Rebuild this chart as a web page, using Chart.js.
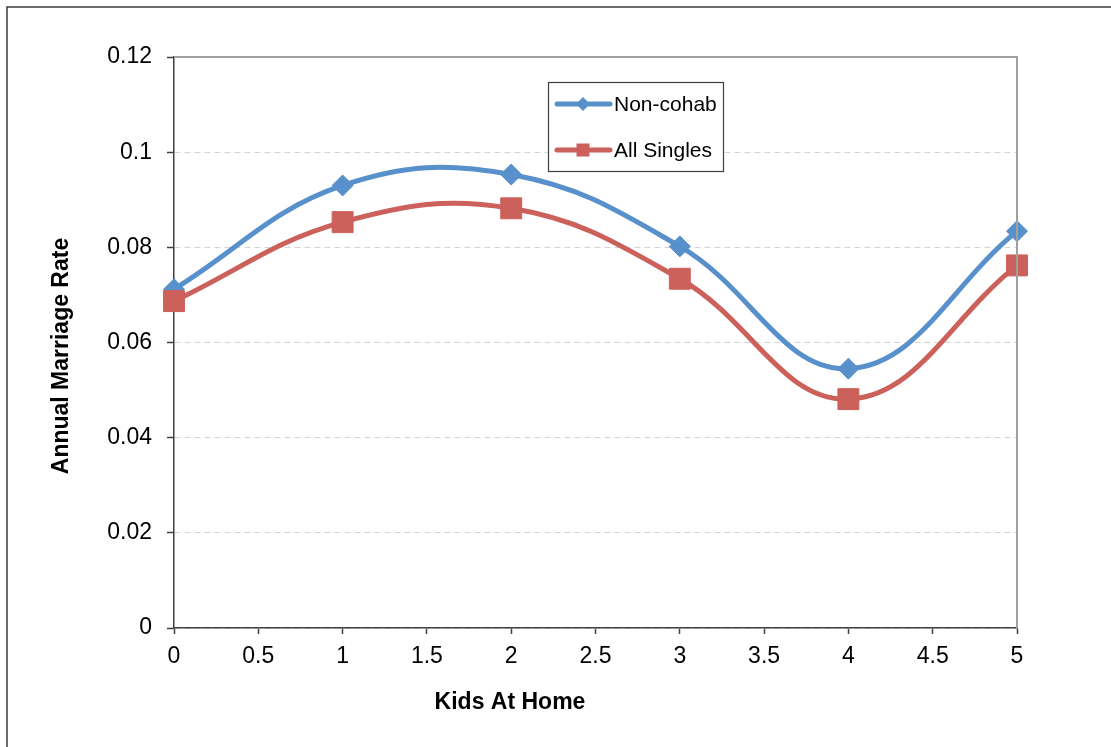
<!DOCTYPE html>
<html>
<head>
<meta charset="utf-8">
<script src="https://cdn.jsdelivr.net/npm/chart.js@4/dist/chart.umd.min.js"></script>
<style>
  html, body { margin: 0; padding: 0; background: #ffffff; }
  #wrap { width: 1111px; height: 747px; position: relative; }
  canvas { display: block; }
</style>
</head>
<body>
<div id="wrap"><canvas id="c" width="1111" height="747"></canvas></div>
<script>
// ---- Data ----
const categories = [0, 1, 2, 3, 4, 5];
const nonCohab   = [0.0712, 0.0930, 0.0953, 0.0802, 0.0545, 0.0834];
const allSingles = [0.0687, 0.0853, 0.0882, 0.0734, 0.0481, 0.0762];
const seriesNames = ['Non-cohab', 'All Singles'];
const xTickLabels = ['0', '0.5', '1', '1.5', '2', '2.5', '3', '3.5', '4', '4.5', '5'];
const yTickLabels = ['0', '0.02', '0.04', '0.06', '0.08', '0.1', '0.12'];
const xTitle = 'Kids At Home';
const yTitle = 'Annual Marriage Rate';

// ---- Styles ----
const BLUE = '#5890CB';
const RED = '#CC605A';
const FONT = '"Liberation Sans", Arial, sans-serif';

const toPoints = (vals) => categories.map((c, i) => ({ x: c, y: vals[i] }));

const decorPlugin = {
  id: 'decor',
  beforeDraw(chart) {
    const ctx = chart.ctx;
    ctx.save();
    ctx.fillStyle = '#ffffff';
    ctx.fillRect(0, 0, chart.width, chart.height);
    // outer chart border (left & top visible)
    ctx.strokeStyle = '#3a3a3a';
    ctx.lineWidth = 1.5;
    ctx.beginPath();
    ctx.moveTo(7, chart.height + 5);
    ctx.lineTo(7, 7);
    ctx.lineTo(chart.width + 5, 7);
    ctx.stroke();
    ctx.restore();
  },
  afterDraw(chart) {
    const ctx = chart.ctx;
    const a = chart.chartArea;
    ctx.save();
    // plot area top & right border
    ctx.strokeStyle = '#A0A0A0';
    ctx.lineWidth = 2;
    ctx.beginPath();
    ctx.moveTo(a.left, a.top);
    ctx.lineTo(a.right, a.top);
    ctx.lineTo(a.right, a.bottom);
    ctx.stroke();

    // axis titles
    ctx.fillStyle = '#000000';
    ctx.font = 'bold 23px ' + FONT;
    ctx.textAlign = 'center';
    ctx.textBaseline = 'middle';
    ctx.fillText(xTitle, 510, 703);
    ctx.save();
    ctx.translate(62, 356);
    ctx.rotate(-Math.PI / 2);
    ctx.fillText(yTitle, 0, 0);
    ctx.restore();

    // legend
    const lx = 548, ly = 82, lw = 175, lh = 89;
    ctx.fillStyle = '#ffffff';
    ctx.fillRect(lx, ly, lw, lh);
    ctx.strokeStyle = '#404040';
    ctx.lineWidth = 1.2;
    ctx.strokeRect(lx + 0.5, ly + 0.5, lw, lh);
    const rows = [104, 150];
    chart.data.datasets.slice().sort((p, q) => p.legendIndex - q.legendIndex).forEach((ds, i) => {
      const y = rows[i];
      ctx.strokeStyle = ds.borderColor;
      ctx.lineWidth = 5;
      ctx.lineCap = 'round';
      ctx.beginPath();
      ctx.moveTo(557, y);
      ctx.lineTo(610, y);
      ctx.stroke();
      ctx.fillStyle = ds.pointBackgroundColor;
      ctx.beginPath();
      if (ds.pointStyle === 'rectRot') {
        const r = 7;
        ctx.moveTo(583 - r, y); ctx.lineTo(583, y - r); ctx.lineTo(583 + r, y); ctx.lineTo(583, y + r);
        ctx.closePath();
      } else {
        const s = 6.5;
        ctx.rect(583 - s, y - s, 2 * s, 2 * s);
      }
      ctx.fill();
      ctx.fillStyle = '#000000';
      ctx.font = '21px ' + FONT;
      ctx.textAlign = 'left';
      ctx.textBaseline = 'middle';
      ctx.fillText(ds.label, 614, y + 1);
    });
    ctx.restore();
  }
};

const chart = new Chart(document.getElementById('c'), {
  type: 'line',
  data: {
    datasets: [
      {
        label: seriesNames[1],
        legendIndex: 1,
        data: toPoints(allSingles),
        borderColor: RED,
        backgroundColor: RED,
        pointBackgroundColor: RED,
        pointBorderColor: RED,
        pointStyle: 'rect',
        pointRadius: 14.8,
        pointBorderWidth: 1,
        borderWidth: 5,
        tension: 0.4,
        fill: false,
        clip: false,
        order: 0
      },
      {
        label: seriesNames[0],
        legendIndex: 0,
        data: toPoints(nonCohab),
        borderColor: BLUE,
        backgroundColor: BLUE,
        pointBackgroundColor: BLUE,
        pointBorderColor: BLUE,
        pointStyle: 'rectRot',
        pointRadius: 10.5,
        pointBorderWidth: 1,
        borderWidth: 5,
        tension: 0.4,
        fill: false,
        clip: false,
        order: 1
      }
    ]
  },
  options: {
    responsive: false,
    animation: false,
    events: [],
    layout: { padding: { left: 0, right: 94, top: 57, bottom: 0 } },
    plugins: {
      legend: { display: false },
      tooltip: { enabled: false },
      title: { display: false }
    },
    scales: {
      x: {
        type: 'linear',
        min: 0,
        max: 5,
        afterFit(scale) { scale.height = 119; },
        afterBuildTicks(scale) {
          scale.ticks = xTickLabels.map(t => ({ value: parseFloat(t) }));
        },
        ticks: {
          autoSkip: false,
          maxRotation: 0,
          padding: 9,
          color: '#000000',
          font: { family: FONT, size: 23 },
          callback: (v, i) => xTickLabels[i]
        },
        grid: {
          drawOnChartArea: false,
          drawTicks: true,
          tickLength: 6,
          tickColor: '#404040',
          tickWidth: 1.5
        },
        border: { display: true, color: '#404040', width: 1.5 }
      },
      y: {
        type: 'linear',
        min: 0,
        max: 0.12,
        afterFit(scale) { scale.width = 174; },
        afterBuildTicks(scale) {
          scale.ticks = yTickLabels.map(t => ({ value: parseFloat(t) }));
        },
        ticks: {
          padding: 15,
          color: '#000000',
          font: { family: FONT, size: 23 },
          callback: (v, i) => yTickLabels[i]
        },
        grid: {
          drawOnChartArea: true,
          color: '#D4D4D4',
          lineWidth: 1,
          drawTicks: true,
          tickLength: 7,
          tickColor: '#404040',
          tickWidth: 1.5
        },
        border: { display: true, color: '#404040', width: 1.5, dash: [6, 4] }
      }
    }
  },
  plugins: [decorPlugin]
});
</script>
</body>
</html>
